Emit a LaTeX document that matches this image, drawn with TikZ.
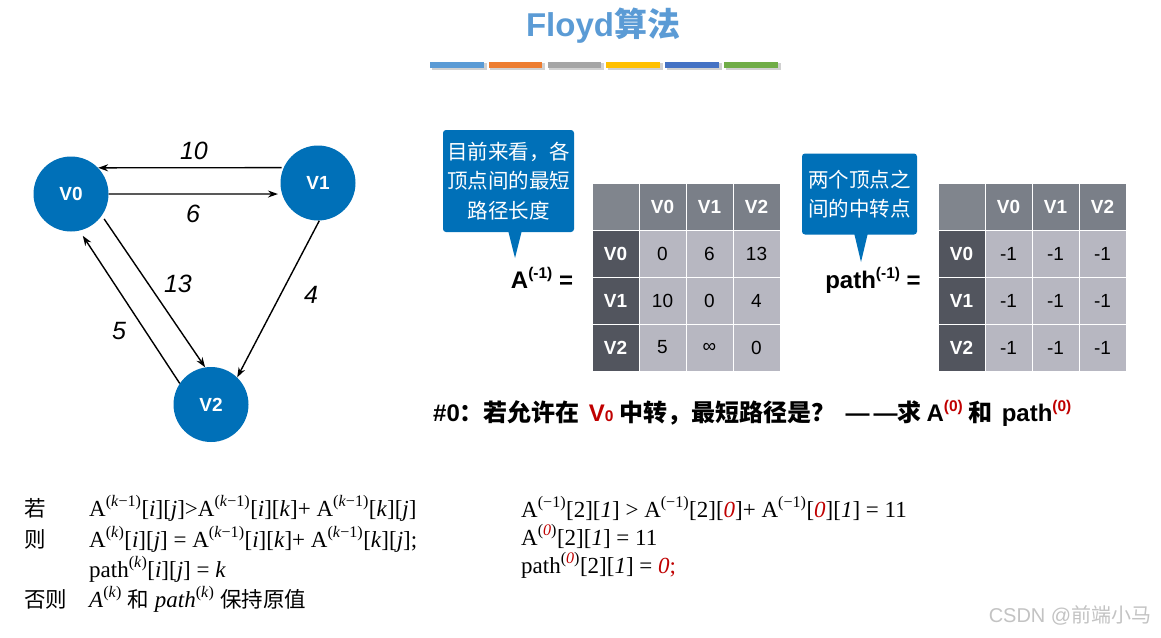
\documentclass[tikz,border=0pt]{standalone}
\usepackage{fontspec}
\usetikzlibrary{arrows.meta,calc}
\setmainfont{Liberation Serif}
\newfontfamily\hel{Liberation Sans}
\newfontfamily\cjk{Noto Sans CJK SC}
\definecolor{titleblue}{RGB}{91,155,213}
\definecolor{nodeblue}{RGB}{0,112,184}
\definecolor{barA}{RGB}{91,155,213}
\definecolor{barB}{RGB}{237,125,49}
\definecolor{barC}{RGB}{165,165,165}
\definecolor{barD}{RGB}{255,192,0}
\definecolor{barE}{RGB}{68,114,196}
\definecolor{barF}{RGB}{112,173,71}
\definecolor{hdr}{RGB}{122,127,136}
\definecolor{cornerc}{RGB}{128,133,141}
\definecolor{rowhdr}{RGB}{82,85,94}
\definecolor{cellc}{RGB}{183,183,193}
\definecolor{darkred}{RGB}{192,0,0}
\definecolor{wm}{RGB}{195,195,195}
\newcommand\bigsup[1]{\raisebox{0.42em}{\fontsize{15.5}{15.5}\selectfont #1}}
\begin{document}
\begin{tikzpicture}[x=1pt,y=-1pt,
  vertex/.style={circle,fill=nodeblue,minimum size=75pt,inner sep=0pt,text=white,font=\hel\bfseries\fontsize{19}{19}\selectfont},
  arr/.style={-{Stealth[length=10pt,width=7pt]},line width=1.4pt,black},
  elabel/.style={font=\hel\itshape\fontsize{25}{25}\selectfont,inner sep=0pt},
  colorbar/.style={minimum width=53.5pt,minimum height=6pt,inner sep=0pt},
  cell/.style={minimum width=47pt,minimum height=47pt,inner sep=0pt,draw=white,line width=0.8pt,fill=cellc,text=black,font=\hel\fontsize{19}{19}\selectfont},
  hcell/.style={cell,fill=hdr,text=white,font=\hel\bfseries\fontsize{19}{19}\selectfont},
  rcell/.style={cell,fill=rowhdr,text=white,font=\hel\bfseries\fontsize{19}{19}\selectfont},
  callout/.style={fill=nodeblue,rounded corners=3pt,text=white,align=center,inner sep=0pt,font=\cjk\fontsize{20.5}{29.5}\selectfont},
  eqlabel/.style={font=\hel\bfseries\fontsize{24}{24}\selectfont,inner sep=0pt},
  formula/.style={anchor=base west,inner sep=0pt,font=\fontsize{23}{23}\selectfont},
  zhlabel/.style={anchor=base west,inner sep=0pt,font=\cjk\fontsize{21.5}{21.5}\selectfont}
]
\useasboundingbox (0,0) rectangle (1161,637);
\fill[white] (0,0) rectangle (1161,637);

% title
\node[font=\fontsize{33}{33}\selectfont,text=titleblue,inner sep=0pt] (title) at (603,26) {{\hel\bfseries Floyd}{\cjk\bfseries 算法}};
\foreach \i/\col in {0/barA,1/barB,2/barC,3/barD,4/barE,5/barF}{
  \fill[black!18] (431.5+58.8*\i,63) rectangle (486.5+58.8*\i,69.5);
  \node[colorbar,fill=\col] (bar\i) at (456.75+58.8*\i,64.5) {};
}

% graph
\node[vertex] (V0) at (71,194) {V0};
\node[vertex] (V1) at (318,183) {V1};
\node[vertex] (V2) at (211,404.5) {V2};
\draw[arr,shorten <=2pt] (V1.156) -- (V0.44);
\draw[arr,shorten >=4pt] (V0.0) -- (V1.197);
\draw[arr,shorten <=4pt] (V0.-35) -- (V2.99);
\draw[arr,shorten >=6pt] (V2.146) -- (V0.-77);
\draw[arr] (V1.-88) -- (V2.46);
\node[elabel] (l10) at (194,151) {10};
\node[elabel] (l6) at (193,214) {6};
\node[elabel] (l13) at (178,284) {13};
\node[elabel] (l5) at (119,331) {5};
\node[elabel] (l4) at (311,295) {4};

% callout 1
\node[callout,minimum width=131pt,minimum height=102pt] (c1) at (508.5,181) {目前来看，各\\顶点间的最短\\路径长度};
\coordinate (t1) at (515,258);
\fill[nodeblue] ($(c1.south -| t1)+(-7,-2)$) -- (t1) -- ($(c1.south -| t1)+(7,-2)$) -- cycle;
\node[eqlabel] (Aeq) at (542,278) {A\bigsup{(-1)} =};

% table A
\node[cell,fill=cornerc] (a00) at (615.5,206.5) {};
\foreach \c/\t in {1/V0,2/V1,3/V2}{
  \node[hcell] (a0\c) at (615.5+47*\c,206.5) {\t};
  \node[rcell] (a\c0) at (615.5,206.5+47*\c) {\t};
}
\foreach \r/\a/\b/\d in {1/0/6/13,2/10/0/4,3/5/∞/0}{
  \node[cell] (a\r1) at (662.5,206.5+47*\r) {\a};
  \node[cell] (a\r2) at (709.5,206.5+47*\r) {\b};
  \node[cell] (a\r3) at (756.5,206.5+47*\r) {\d};
}

% callout 2
\node[callout,minimum width=115pt,minimum height=81pt] (c2) at (859.5,194) {两个顶点之\\间的中转点};
\coordinate (t2) at (861,262);
\fill[nodeblue] ($(c2.south -| t2)+(-7,-2)$) -- (t2) -- ($(c2.south -| t2)+(7,-2)$) -- cycle;
\node[eqlabel] (Peq) at (873,280) {path\bigsup{(-1)} =};

% table path
\node[cell,fill=cornerc] (p00) at (961.5,206.5) {};
\foreach \c/\t in {1/V0,2/V1,3/V2}{
  \node[hcell] (p0\c) at (961.5+47*\c,206.5) {\t};
  \node[rcell] (p\c0) at (961.5,206.5+47*\c) {\t};
}
\foreach \r in {1,2,3}{
  \foreach \c in {1,2,3}{
    \node[cell] (p\r\c) at (961.5+47*\c,206.5+47*\r) {-1};
  }
}

% question line
\node[anchor=west,inner sep=0pt,font=\fontsize{24}{24}\selectfont] (q) at (433,413)
 {{\hel\bfseries \#0}{\cjk\bfseries ：若允许在}\hspace{9pt}{\hel\bfseries\color{darkred}V{\fontsize{15.5}{15.5}\selectfont 0}}\hspace{6pt}{\cjk\bfseries 中转，最短路径是？}\hspace{10pt}{\hel\bfseries —\kern4pt—}{\cjk\bfseries 求}\hspace{5pt}{\hel\bfseries A\bigsup{\color{darkred}(0)}}\hspace{6pt}{\cjk\bfseries 和}\hspace{9pt}{\hel\bfseries path\bigsup{\color{darkred}(0)}}};

% bottom-left rules
\node[zhlabel] (ruo) at (24,516) {若};
\node[formula] (f1) at (89,516) {A\textsuperscript{(\textit{k}−1)}[\textit{i}][\textit{j}]>A\textsuperscript{(\textit{k}−1)}[\textit{i}][\textit{k}]+ A\textsuperscript{(\textit{k}−1)}[\textit{k}][\textit{j}]};
\node[zhlabel] (ze) at (24,547) {则};
\node[formula] (f2) at (89,547) {A\textsuperscript{(\textit{k})}[\textit{i}][\textit{j}] = A\textsuperscript{(\textit{k}−1)}[\textit{i}][\textit{k}]+ A\textsuperscript{(\textit{k}−1)}[\textit{k}][\textit{j}];};
\node[formula] (f3) at (89,577) {path\textsuperscript{(\textit{k})}[\textit{i}][\textit{j}] = \textit{k}};
\node[zhlabel] (fouze) at (24,607) {否则};
\node[formula] (f4) at (89,607) {\textit{A}\textsuperscript{(\textit{k})} {\cjk\fontsize{21.5}{21.5}\selectfont 和} \textit{path}\textsuperscript{(\textit{k})} {\cjk\fontsize{21.5}{21.5}\selectfont 保持原值}};

% bottom-right example
\node[formula] (g1) at (521,517) {A\textsuperscript{(−1)}[2][\textit{1}] > A\textsuperscript{(−1)}[2][\textcolor{darkred}{\textit{0}}]+ A\textsuperscript{(−1)}[\textcolor{darkred}{\textit{0}}][\textit{1}] = 11};
\node[formula] (g2) at (521,545) {A\textsuperscript{(\textcolor{darkred}{\textit{0}})}[2][\textit{1}] = 11};
\node[formula] (g3) at (521,573) {path\textsuperscript{(\textcolor{darkred}{\textit{0}})}[2][\textit{1}] = \textcolor{darkred}{\textit{0};}};

% watermark
\node[font=\hel\fontsize{20}{20}\selectfont,text=wm,inner sep=0pt] (wmk) at (1070,615) {CSDN @{\cjk 前端小马}};
\end{tikzpicture}
\end{document}
